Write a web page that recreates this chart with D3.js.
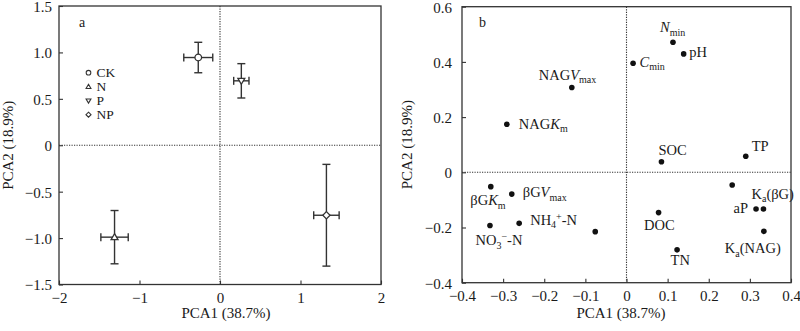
<!DOCTYPE html>
<html><head><meta charset="utf-8">
<script src="https://cdn.jsdelivr.net/npm/d3@7"></script>
<style>
body{margin:0;background:#fff}
svg{display:block}
text{font-family:"Liberation Serif","Times New Roman",serif;fill:#1a1a1a}
</style>
</head><body>
<svg id="c" width="800" height="331"></svg>
<script>
// ---------- Panel a data: treatment scores ----------
const treatments = ["CK", "N", "P", "NP"];
const treatPC1 = [-0.27, -1.31, 0.265, 1.322];
const treatPC1Err = [0.18, 0.17, 0.095, 0.158];
const treatPC2 = [0.945, -0.99, 0.694, -0.754];
const treatPC2Err = [0.164, 0.287, 0.185, 0.548];
const treatSymbols = ["circle", "triangle", "triangleDown", "diamond"];

// ---------- Panel b data: variable loadings ----------
const variables = ["Nmin", "pH", "Cmin", "NAGVmax", "NAGKm", "SOC", "TP", "unlabeled1", "aP", "KaBG", "KaNAG", "DOC", "TN", "BGKm", "BGVmax", "NO3", "NH4", "unlabeled2"];
const varPC1 = [0.113, 0.139, 0.016, -0.133, -0.291, 0.085, 0.290, 0.257, 0.315, 0.333, 0.334, 0.078, 0.123, -0.330, -0.279, -0.332, -0.261, -0.076];
const varPC2 = [0.471, 0.429, 0.395, 0.307, 0.174, 0.038, 0.058, -0.046, -0.133, -0.133, -0.214, -0.146, -0.281, -0.052, -0.079, -0.193, -0.185, -0.215];

// ---------- Ticks ----------
const ticksAx = [-2, -1, 0, 1, 2];
const tickLabelsAx = ["−2", "−1", "0", "1", "2"];
const ticksAy = [-1.5, -1, -0.5, 0, 0.5, 1, 1.5];
const tickLabelsAy = ["−1.5", "−1.0", "−0.5", "0", "0.5", "1.0", "1.5"];
const ticksBx = [-0.4, -0.3, -0.2, -0.1, 0, 0.1, 0.2, 0.3, 0.4];
const tickLabelsBx = ["−0.4", "−0.3", "−0.2", "−0.1", "0", "0.1", "0.2", "0.3", "0.4"];
const ticksBy = [-0.4, -0.2, 0, 0.2, 0.4, 0.6];
const tickLabelsBy = ["−0.4", "−0.2", "0", "0.2", "0.4", "0.6"];

const xTitle = "PCA1 (38.7%)";
const yTitle = "PCA2 (18.9%)";

// rich label segments (text, style) for panel b
const richLabels = {
  Nmin: [["N","i"],["min","sub"]],
  pH: [["pH",""]],
  Cmin: [["C","i"],["min","sub"]],
  NAGVmax: [["NAG",""],["V","i"],["max","sub"]],
  NAGKm: [["NAG",""],["K","i"],["m","sub"]],
  SOC: [["SOC",""]],
  TP: [["TP",""]],
  unlabeled1: [],
  aP: [["aP",""]],
  KaBG: [["K",""],["a","sub"],["(βG)",""]],
  KaNAG: [["K",""],["a","sub"],["(NAG)",""]],
  DOC: [["DOC",""]],
  TN: [["TN",""]],
  BGKm: [["βG",""],["K","i"],["m","sub"]],
  BGVmax: [["βG",""],["V","i"],["max","sub"]],
  NO3: [["NO",""],["3","sub"],["−","sup"],["-N",""]],
  NH4: [["NH",""],["4","sub"],["+","sup"],["-N",""]],
  unlabeled2: []
};
// label placement (pixel offset of text start / baseline from point)
const labelPlacement = {
  Nmin:[-13,-10], pH:[5.5,3], Cmin:[6.5,3.5], NAGVmax:[-33,-8], NAGKm:[12,4.5],
  SOC:[-3,-7], TP:[6,-5], aP:[-22.5,4], KaBG:[-12,-10.5], KaNAG:[-39,22],
  DOC:[-14.5,17.5], TN:[-6.5,15], BGKm:[-20.5,18.5], BGVmax:[11,3], NO3:[-14.5,19.5], NH4:[11,1.5]
};

const svg = d3.select("#c");
const stroke = "#333";

function symbolPath(type, r) {
  if (type === "circle") return d3.symbol(d3.symbolCircle, Math.PI * r * r)();
  if (type === "triangle") return `M0,${-r*1.05}L${r*1.05},${r*0.75}L${-r*1.05},${r*0.75}Z`;
  if (type === "triangleDown") return `M0,${r*1.05}L${r*1.05},${-r*0.75}L${-r*1.05},${-r*0.75}Z`;
  if (type === "diamond") return `M0,${-r*1.1}L${r*1.1},0L0,${r*1.1}L${-r*1.1},0Z`;
}

function drawFrame(g, x, y, xt, xtl, yt, ytl, yLabelEnd, xTitleX, yTitleX) {
  const [x0, x1] = x.range(), [y0, y1] = y.range();
  // zero dotted lines
  g.append("line").attr("x1", x0).attr("x2", x1).attr("y1", y(0)).attr("y2", y(0))
    .attr("stroke", stroke).attr("stroke-width", 1.1).attr("stroke-dasharray", "1.2,1.3");
  g.append("line").attr("x1", x(0)).attr("x2", x(0)).attr("y1", y1).attr("y2", y0)
    .attr("stroke", stroke).attr("stroke-width", 1.1).attr("stroke-dasharray", "1.2,1.3");
  // axes using d3 axis with inward ticks
  const ax = g.append("g").attr("transform", `translate(0,${y0})`)
    .call(d3.axisBottom(x).tickValues(xt).tickSizeInner(-4).tickSizeOuter(0).tickPadding(8)
      .tickFormat((d, i) => xtl[i]));
  const ay = g.append("g").attr("transform", `translate(${x0},0)`)
    .call(d3.axisLeft(y).tickValues(yt).tickSizeInner(-4).tickSizeOuter(0).tickPadding(7 + yLabelEnd)
      .tickFormat((d, i) => ytl[i]));
  [ax, ay].forEach(a => {
    a.selectAll(".domain").remove();
    a.selectAll("line").attr("stroke", stroke).attr("stroke-width", 1.1);
    a.selectAll("text").attr("font-size", 15).attr("fill", "#1a1a1a")
      .attr("font-family", '"Liberation Serif","Times New Roman",serif');
  });
  ay.selectAll("text").attr("dy", "0.36em");
  ax.selectAll("text").attr("dy", "0.71em");
  // box
  g.append("rect").attr("x", x0).attr("y", y1).attr("width", x1 - x0).attr("height", y0 - y1)
    .attr("fill", "none").attr("stroke", stroke).attr("stroke-width", 1.3);
  // titles
  g.append("text").attr("x", xTitleX).attr("y", 318).attr("text-anchor", "middle")
    .attr("font-size", 15).text(xTitle);
  g.append("text").attr("transform", `translate(${yTitleX},${(y0 + y1) / 2}) rotate(-90)`)
    .attr("text-anchor", "middle").attr("dominant-baseline", "central")
    .attr("font-size", 15).text(yTitle);
}

// ---------- Panel a ----------
const xa = d3.scaleLinear().domain([-2, 2]).range([59, 381]);
const ya = d3.scaleLinear().domain([-1.5, 1.5]).range([284.5, 6]);
const ga = svg.append("g");
drawFrame(ga, xa, ya, ticksAx, tickLabelsAx, ticksAy, tickLabelsAy, 0, 226, 8);
ga.append("text").attr("x", 79).attr("y", 27).attr("font-size", 14).text("a");

const cap = 4;
const errG = ga.append("g").attr("stroke", stroke).attr("stroke-width", 1.4).attr("fill", "none");
treatments.forEach((t, i) => {
  const cx = xa(treatPC1[i]), cy = ya(treatPC2[i]);
  const xl = xa(treatPC1[i] - treatPC1Err[i]), xr = xa(treatPC1[i] + treatPC1Err[i]);
  const yt = ya(treatPC2[i] + treatPC2Err[i]), yb = ya(treatPC2[i] - treatPC2Err[i]);
  errG.append("line").attr("x1", xl).attr("x2", xr).attr("y1", cy).attr("y2", cy);
  errG.append("line").attr("x1", xl).attr("x2", xl).attr("y1", cy - cap).attr("y2", cy + cap);
  errG.append("line").attr("x1", xr).attr("x2", xr).attr("y1", cy - cap).attr("y2", cy + cap);
  errG.append("line").attr("x1", cx).attr("x2", cx).attr("y1", yt).attr("y2", yb);
  errG.append("line").attr("x1", cx - cap).attr("x2", cx + cap).attr("y1", yt).attr("y2", yt);
  errG.append("line").attr("x1", cx - cap).attr("x2", cx + cap).attr("y1", yb).attr("y2", yb);
});
ga.selectAll("path.mk").data(treatments).join("path").attr("class", "mk")
  .attr("transform", (d, i) => `translate(${xa(treatPC1[i])},${ya(treatPC2[i])})`)
  .attr("d", (d, i) => symbolPath(treatSymbols[i], 3.3))
  .attr("fill", "#fff").attr("stroke", stroke).attr("stroke-width", 1.3);

// legend
const lg = ga.append("g").attr("transform", "translate(88.5,72.7)");
treatments.forEach((t, i) => {
  lg.append("path").attr("transform", `translate(0,${i * 14})`)
    .attr("d", symbolPath(treatSymbols[i], 2.3))
    .attr("fill", "#fff").attr("stroke", stroke).attr("stroke-width", 1.1);
  lg.append("text").attr("x", 8).attr("y", i * 14 + 4.6).attr("font-size", 13.5).text(t);
});

// ---------- Panel b ----------
const xb = d3.scaleLinear().domain([-0.4, 0.4]).range([462, 791]);
const yb = d3.scaleLinear().domain([-0.4, 0.6]).range([282.7, 6.7]);
const gb = svg.append("g");
drawFrame(gb, xb, yb, ticksBx, tickLabelsBx, ticksBy, tickLabelsBy, 3, 621, 407);
gb.append("text").attr("x", 479).attr("y", 27).attr("font-size", 14).text("b");

gb.selectAll("circle.pt").data(variables).join("circle").attr("class", "pt")
  .attr("cx", (d, i) => xb(varPC1[i])).attr("cy", (d, i) => yb(varPC2[i]))
  .attr("r", 2.8).attr("fill", "#111");

variables.forEach((v, i) => {
  const segs = richLabels[v];
  if (!segs || !segs.length) return;
  const [dx, dy] = labelPlacement[v];
  const t = gb.append("text").attr("x", xb(varPC1[i]) + dx).attr("y", yb(varPC2[i]) + dy)
    .attr("font-size", 14.5);
  let shift = 0;
  segs.forEach(([s, st]) => {
    const ts = t.append("tspan").text(s);
    let target = 0;
    if (st === "sub") { target = 3.5; ts.attr("font-size", 10); }
    else if (st === "sup") { target = -5; ts.attr("font-size", 10); }
    else if (st === "i") { ts.attr("font-style", "italic"); }
    ts.attr("dy", target - shift);
    shift = target;
  });
});
</script>
</body></html>
